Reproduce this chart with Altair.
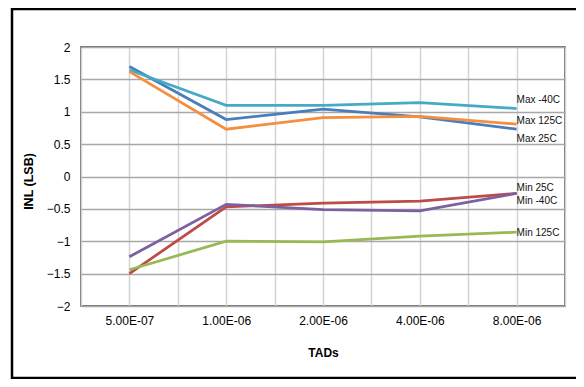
import json
import altair as alt
import pandas as pd

categories = ["5.00E-07", "1.00E-06", "2.00E-06", "4.00E-06", "8.00E-06"]
series_names = ["Max 25C", "Min 25C", "Min 125C", "Min -40C", "Max -40C", "Max 125C"]
max_25 = [1.70, 0.88, 1.04, 0.92, 0.73]
min_25 = [-1.50, -0.47, -0.41, -0.38, -0.26]
min_125 = [-1.44, -1.00, -1.01, -0.92, -0.86]
min_m40 = [-1.24, -0.43, -0.51, -0.53, -0.26]
max_m40 = [1.645, 1.10, 1.10, 1.14, 1.05]
max_125 = [1.62, 0.73, 0.91, 0.93, 0.81]
series_values = [max_25, min_25, min_125, min_m40, max_m40, max_125]
colors = ["#4A7EBB", "#BE4B48", "#98B954", "#7D60A0", "#46AAC5", "#F38F3E"]
y_ticks = [-2, -1.5, -1, -0.5, 0, 0.5, 1, 1.5, 2]

rows = []
for name, vals in zip(series_names, series_values):
    for i, v in enumerate(vals):
        rows.append({"series": name, "idx": i, "cat": categories[i], "value": v})
df = pd.DataFrame(rows)

label_dy = {"Max 25C": 10, "Min 25C": -5, "Min 125C": 1, "Min -40C": 8,
            "Max -40C": -9, "Max 125C": -3}

cat_js = json.dumps(categories)
label_expr = f"datum.value % 1 == 0 ? {cat_js}[datum.value] : ''"
x_ticks = [i * 0.5 for i in range(-1, 2 * len(categories))]

x_enc = alt.X("idx:Q", scale=alt.Scale(domain=[-0.5, len(categories) - 0.5], nice=False, zero=False),
              axis=alt.Axis(values=x_ticks, labelExpr=label_expr, title="TADs", ticks=False,
                            domain=False, grid=True, gridColor="#d4d4d4", gridWidth=1.5,
                            labelFontSize=12, labelColor="#000", labelPadding=9,
                            labelFont="Liberation Sans", titleFont="Liberation Sans",
                            titleFontSize=12, titleFontWeight="bold", titlePadding=21,
                            labelFlush=False, labelOverlap=False))
y_enc = alt.Y("value:Q", scale=alt.Scale(domain=[-2, 2], nice=False),
              axis=alt.Axis(values=y_ticks, format="~g", title="INL (LSB)", ticks=False,
                            domain=False, grid=True, gridColor="#a8a8a8", gridWidth=1.5,
                            labelFontSize=12, labelColor="#000", labelPadding=11,
                            labelFont="Liberation Sans", titleFont="Liberation Sans",
                            titleFontSize=12.5, titleFontWeight="bold", titlePadding=11,
                            titleY=134, labelOverlap=False, labelFlush=False))

layers = []
for name, col in zip(series_names, colors):
    sub = df[df.series == name]
    layers.append(alt.Chart(sub).mark_line(color=col, strokeWidth=2.75).encode(x=x_enc, y=y_enc))
for name in series_names:
    sub = df[(df.series == name) & (df.idx == len(categories) - 1)]
    layers.append(alt.Chart(sub).mark_text(align="left", baseline="middle", dx=0, dy=label_dy[name],
                                           fontSize=10, font="Liberation Sans", color="#111")
                  .encode(x=x_enc, y=y_enc, text="series:N"))

frame = alt.Chart(pd.DataFrame({"a": [0]})).mark_rect(fill=None, stroke="#000", strokeWidth=2.5).encode(
    x=alt.value(-69), x2=alt.value(540), y=alt.value(-38), y2=alt.value(331))

chart = alt.layer(*layers, frame).properties(
    width=484, height=259,
    padding={"left": 73, "top": 39, "right": 11, "bottom": 73},
    autosize=alt.AutoSizeParams(type="none"),
    background="white",
).configure_view(stroke="#404040", strokeWidth=1.5)

chart.save("out.html", embed_options={"renderer": "svg", "actions": False})
